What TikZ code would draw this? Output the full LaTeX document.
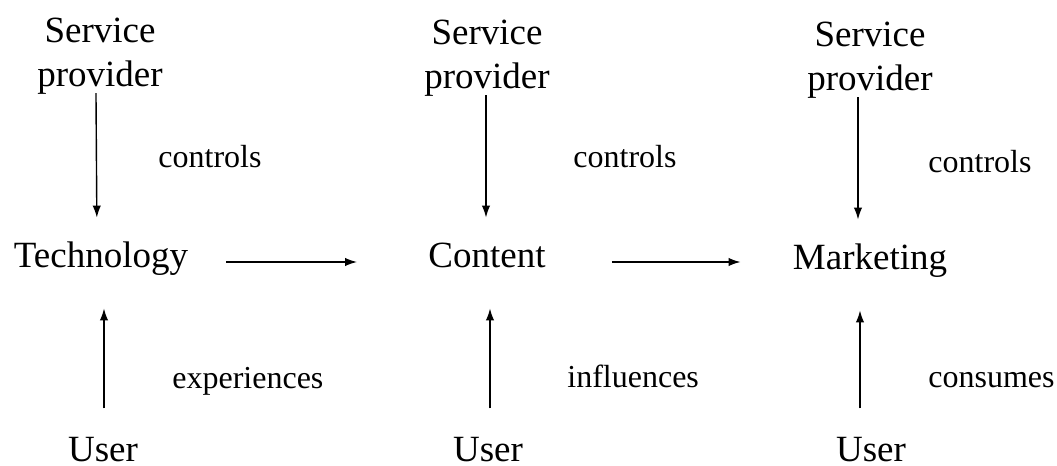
\documentclass[tikz,border=0pt]{standalone}
\usepackage{fontspec}
\setmainfont{Liberation Serif}
\usetikzlibrary{arrows.meta}
\begin{document}
\begin{tikzpicture}[x=0.5pt, y=-0.5pt,
  main/.style = {inner sep=0, font=\fontsize{18.5}{22}\selectfont, align=center},
  mid/.style = {main, text height=12.5pt, text depth=4pt, anchor=base},
  lbl/.style = {inner sep=0, font=\fontsize{16}{19}\selectfont, anchor=base west},
  arr/.style = {-{Latex[length=6pt,width=4.2pt]}, line width=0.7pt}]
\useasboundingbox (0,0) rectangle (1057,466);

\node[main, anchor=north] (sp1) at (100,18) {Service\\provider};
\node[main, anchor=north] (sp2) at (487,20) {Service\\provider};
\node[main, anchor=north] (sp3) at (870,22) {Service\\provider};

\node[mid] (tech) at (101,267) {Technology};
\node[mid] (content) at (487,267) {Content};
\node[mid] (mark) at (870,269) {Marketing};

\node[main, anchor=base] (user1) at (103,461) {User};
\node[main, anchor=base] (user2) at (488,461) {User};
\node[main, anchor=base] (user3) at (871,461) {User};

\node[lbl] (c1) at (158,167) {controls};
\node[lbl] (c2) at (573,167) {controls};
\node[lbl] (c3) at (928,172) {controls};
\node[lbl] (exp) at (172,388) {experiences};
\node[lbl] (inf) at (567,387) {influences};
\node[lbl] (cons) at (928,387) {consumes};

\draw[arr, shorten <=-1pt, shorten >=12pt] ([xshift=-2pt]sp1.south) -- ([xshift=-2pt]tech.north);
\draw[arr, shorten <=-1pt, shorten >=12pt] ([xshift=-0.5pt]sp2.south) -- ([xshift=-0.5pt]content.north);
\draw[arr, shorten <=-1pt, shorten >=12pt] ([xshift=-6pt]sp3.south) -- ([xshift=-6pt]mark.north);

\draw[arr, shorten <=14pt, shorten >=16.5pt] ([xshift=1.5pt]user1.north -| tech.south) -- ([xshift=1.5pt]tech.south);
\draw[arr, shorten <=14pt, shorten >=16.5pt] ([xshift=1.5pt]user2.north -| content.south) -- ([xshift=1.5pt]content.south);
\draw[arr, shorten <=14pt, shorten >=16.5pt] ([xshift=-5pt]user3.north -| mark.south) -- ([xshift=-5pt]mark.south);

\draw[arr, shorten <=19pt, shorten >=35.5pt] ([yshift=-1.75pt]tech.east) -- ([yshift=-1.75pt]tech.east -| content.west);
\draw[arr, shorten <=33pt, shorten >=26pt] ([yshift=-1.75pt]content.east) -- ([yshift=-1.75pt]content.east -| mark.west);

\end{tikzpicture}
\end{document}
